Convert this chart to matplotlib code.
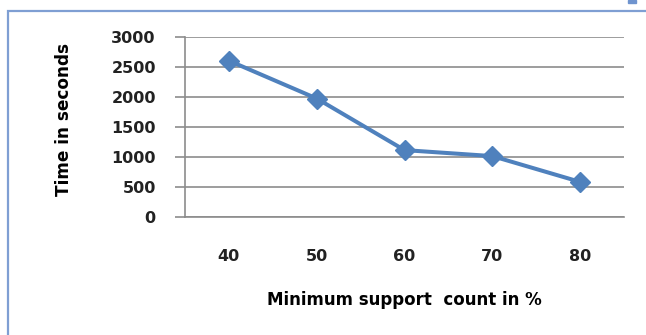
import matplotlib
matplotlib.use("Agg")
import matplotlib.pyplot as plt
from matplotlib.patches import Rectangle

# support threshold vs runtime
support = ["40", "50", "60", "70", "80"]
seconds = [2600, 1970, 1110, 1010, 580]
yticks = [0, 500, 1000, 1500, 2000, 2500, 3000]

W, H = 646, 335
fig = plt.figure(figsize=(W / 100, H / 100), dpi=100)
fig.patch.set_facecolor("white")

# light blue chart frame (cut off on the right and bottom)
fig.patches.append(Rectangle((8 / W, -0.05), 1.1, 1 - 11 / H + 0.05,
                             transform=fig.transFigure, fill=False,
                             edgecolor="#7f9fd3", linewidth=1.6))
fig.patches.append(Rectangle((628 / W, 1 - 3 / H), 8 / W, 3 / H,
                             transform=fig.transFigure, color="#6f94cf"))

ax = fig.add_axes([185 / W, 1 - 216.7 / H, (624 - 185) / W, (216.7 - 36.7) / H])
x = range(len(support))
ax.plot(x, seconds, color="#4f81bd", linewidth=2.9, marker="D", markersize=10,
        markeredgecolor="#4f81bd", zorder=3)

ax.set_xlim(-0.5, len(support) - 0.5)
ax.set_ylim(0, 3000)
ax.set_yticks(yticks)
ax.set_xticks(list(x))
ax.set_xticklabels(support)
ax.yaxis.grid(True, color="#8c8c8c", linewidth=1.2)
ax.set_axisbelow(True)

for s in ["top", "right"]:
    ax.spines[s].set_visible(False)
ax.spines["left"].set_color("#8c8c8c")
ax.spines["bottom"].set_color("#8c8c8c")
ax.spines["left"].set_linewidth(1.2)
ax.spines["bottom"].set_linewidth(1.2)

ax.tick_params(axis="y", length=7, width=1.2, color="#8c8c8c", pad=14)
ax.tick_params(axis="x", length=0, pad=23)
for lab in ax.get_xticklabels() + ax.get_yticklabels():
    lab.set_fontfamily("DejaVu Sans")
    lab.set_fontweight("bold")
    lab.set_fontsize(11.5)
    lab.set_color("#222222")

fig.text(404 / W, 1 - 300 / H, "Minimum support  count in %", ha="center", va="center",
         fontsize=12, fontweight="bold", color="black", family="DejaVu Sans")
fig.text(64 / W, 1 - 119 / H, "Time in seconds", ha="center", va="center", rotation=90,
         fontsize=12.2, fontweight="bold", color="black", family="DejaVu Sans")

fig.savefig("out.png", dpi=100)
